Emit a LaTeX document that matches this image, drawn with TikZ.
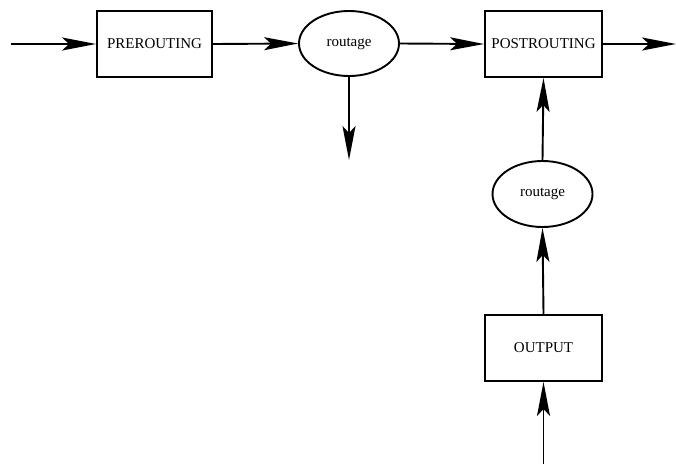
\documentclass[tikz,border=0pt]{standalone}
\usepackage{fontspec}
\setmainfont{Liberation Serif}
\usetikzlibrary{arrows.meta,shapes.geometric}
\begin{document}
\begin{tikzpicture}[x=1pt,y=-1pt,
  box/.style={draw,line width=1.9pt,rectangle,inner sep=0pt,minimum width=117pt,minimum height=66pt,font=\fontsize{15}{18}\selectfont},
  oval/.style={draw,line width=1.9pt,ellipse,inner sep=0pt,minimum width=100pt,minimum height=65pt,font=\fontsize{15}{18}\selectfont},
  conn/.style={line width=1.9pt,-{Stealth[length=34pt,width=13pt,inset=7pt]}}]
\useasboundingbox (0,0) rectangle (676,464);
\node[box,minimum width=115pt] (pre) at (154.5,44) {PREROUTING};
\node[oval] (r1) at (349,43.5) {routage};
\node[box] (post) at (543.5,44) {POSTROUTING};
\node[oval,minimum height=66pt] (r2) at (542.5,194) {routage};
\node[box] (out) at (543.5,348) {OUTPUT};
\coordinate (in) at (11,44);
\coordinate (exit) at (676,44);
\coordinate (down) at (349,160);
\coordinate (bot) at (543.5,464);
\draw[conn] (in) -- (pre.west);
\draw[conn] (pre.east) -- (r1.west);
\draw[conn] (r1.east) -- (post.west);
\draw[conn] (post.east) -- (exit);
\draw[conn] (r1.south) -- (down);
\draw[conn] (r2.north) -- (post.south);
\draw[conn] (out.north) -- (r2.south);
\draw[conn] (bot) -- (out.south);
\end{tikzpicture}
\end{document}
